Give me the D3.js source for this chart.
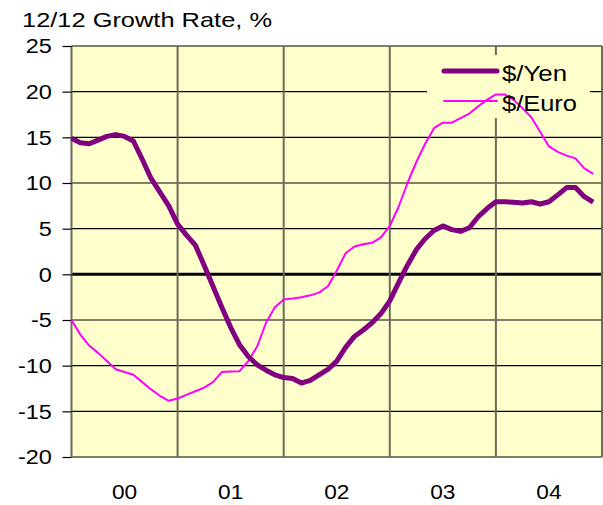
<!DOCTYPE html>
<html>
<head>
<meta charset="utf-8">
<script src="https://cdn.jsdelivr.net/npm/d3@7"></script>
<style>
  body { margin: 0; background: #fff; }
  svg { font-family: "Liberation Sans", Arial, sans-serif; }
</style>
</head>
<body>
<div id="chart"></div>
<script>
// year labels, one per 12 months
const years = ["00", "01", "02", "03", "04"];
const yTicks = [25, 20, 15, 10, 5, 0, -5, -10, -15, -20];

// monthly 12/12 growth, Jan 2000 .. Dec 2004
const yen = [
  14.9, 14.4, 14.3, 14.7, 15.1, 15.3, 15.1, 14.6, 12.6, 10.5, 9.0, 7.5,
  5.5, 4.3, 3.2, 1.0, -1.3, -3.6, -5.8, -7.7, -9.0, -9.9, -10.5, -11.0,
  -11.3, -11.4, -11.9, -11.6, -11.0, -10.4, -9.5, -8.0, -6.8, -6.1, -5.3, -4.3,
  -2.9, -0.9, 1.0, 2.7, 3.9, 4.8, 5.3, 4.9, 4.7, 5.1, 6.3, 7.2,
  7.95, 7.95, 7.9, 7.8, 7.95, 7.7, 7.95, 8.7, 9.5, 9.5, 8.5, 7.9
];
const euro = [
  -5.0, -6.6, -7.8, -8.6, -9.5, -10.4, -10.7, -11.0, -11.8, -12.6, -13.3, -13.85,
  -13.6, -13.2, -12.8, -12.4, -11.8, -10.7, -10.65, -10.6, -9.5, -7.9, -5.3, -3.6,
  -2.75, -2.65, -2.5, -2.3, -2.0, -1.3, 0.4, 2.3, 3.05, 3.3, 3.45, 4.05,
  5.3, 7.4, 10.0, 12.3, 14.3, 16.0, 16.6, 16.6, 17.1, 17.6, 18.4, 19.1,
  19.7, 19.7, 19.1, 18.2, 17.2, 15.6, 14.0, 13.4, 13.0, 12.7, 11.6, 11.0
];

const width = 603;
const height = 505;
const marginTop = 46;
const marginRight = 1;
const marginBottom = 48;
const marginLeft = 71.5;
const stretch = 1.12; // text in the original is a bit wide

const svg = d3.select("#chart")
  .append("svg")
  .attr("width", width)
  .attr("height", height);

// x in months from Jan 2000
const x = d3.scaleLinear([0, 60], [marginLeft, width - marginRight]);
const y = d3.scaleLinear([-20, 25], [height - marginBottom, marginTop]);

// plot area
svg.append("rect")
  .attr("x", x(0))
  .attr("y", y(25))
  .attr("width", x(60) - x(0))
  .attr("height", y(-20) - y(25))
  .attr("fill", "#ffffcc");

// horizontal grid lines
svg.append("g")
  .selectAll("line")
  .data(yTicks)
  .join("line")
  .attr("x1", x(0))
  .attr("x2", x(60))
  .attr("y1", d => y(d))
  .attr("y2", d => y(d))
  .attr("stroke", "#000")
  .attr("stroke-width", d => d === 0 ? 3 : 1.2);

// vertical grid lines at year boundaries
svg.append("g")
  .selectAll("line")
  .data(d3.range(0, 61, 12))
  .join("line")
  .attr("x1", d => x(d))
  .attr("x2", d => x(d))
  .attr("y1", y(25))
  .attr("y2", y(-20))
  .attr("stroke", "#6b6b5a")
  .attr("stroke-width", 2);

// y axis ticks and labels
const yAxis = svg.append("g")
  .attr("transform", `translate(${x(0)},0)`)
  .call(d3.axisLeft(y).tickValues(yTicks).tickSize(9).tickPadding(8.5)
    .tickFormat(d => String(d)))
  .call(g => g.select(".domain").remove());
yAxis.selectAll(".tick line").attr("stroke", "#000").attr("stroke-width", 1.2);
yAxis.selectAll(".tick text")
  .attr("font-size", 21)
  .attr("font-family", "Liberation Sans, Arial, sans-serif")
  .attr("fill", "#000")
  .attr("transform", `scale(${stretch},1)`);

// x labels centered in each year
svg.append("g")
  .selectAll("text")
  .data(years)
  .join("text")
  .attr("transform", (d, i) => `translate(${x(i * 12 + 6)},499) scale(1.08,1)`)
  .attr("text-anchor", "middle")
  .attr("font-size", 21)
  .text(d => d);

// legend box hides grid lines but not the series
const legend = svg.append("g");
legend.append("rect")
  .attr("x", 427)
  .attr("y", 55)
  .attr("width", 163)
  .attr("height", 63)
  .attr("fill", "#ffffcc");

// title
svg.append("text")
  .attr("x", 22)
  .attr("y", 27)
  .attr("font-size", 21)
  .attr("textLength", 250)
  .attr("lengthAdjust", "spacingAndGlyphs")
  .text("12/12 Growth Rate, %");

const line = d3.line()
  .x((d, i) => x(i))
  .y(d => y(d));

svg.append("path")
  .attr("fill", "none")
  .attr("stroke", "#ff00ff")
  .attr("stroke-width", 2)
  .attr("stroke-linejoin", "round")
  .attr("d", line(euro));

svg.append("path")
  .attr("fill", "none")
  .attr("stroke", "#800080")
  .attr("stroke-width", 5)
  .attr("stroke-linejoin", "round")
  .attr("d", line(yen));

const items = [
  { name: "$/Yen", color: "#800080", w: 5, len: 65 },
  { name: "$/Euro", color: "#ff00ff", w: 2, len: 75 }
];
const keys = svg.append("g");
items.forEach((d, i) => {
  const yy = 71 + i * 30;
  keys.append("line")
    .attr("x1", 444).attr("x2", 497)
    .attr("y1", yy).attr("y2", yy)
    .attr("stroke", d.color)
    .attr("stroke-width", d.w)
    .attr("stroke-linecap", "round");
  keys.append("text")
    .attr("x", 502)
    .attr("y", yy + 10)
    .attr("font-size", 22)
    .attr("textLength", d.len)
    .attr("lengthAdjust", "spacingAndGlyphs")
    .text(d.name);
});
</script>
</body>
</html>
